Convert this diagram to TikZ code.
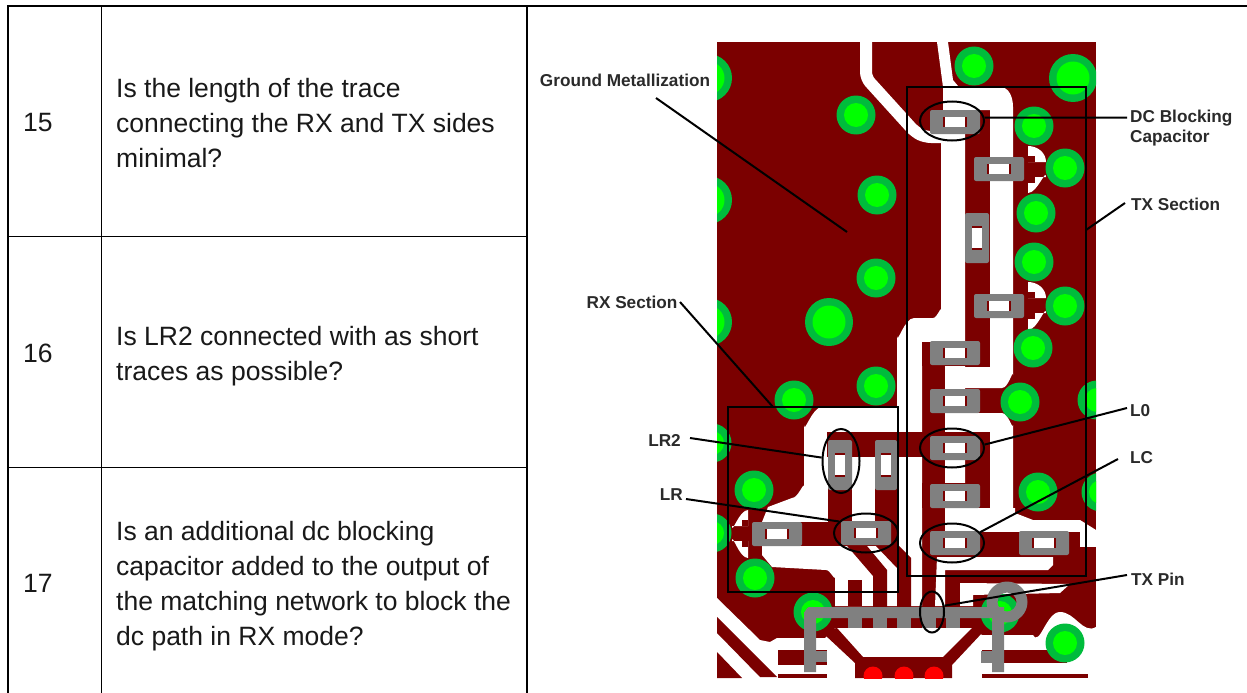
\documentclass[tikz,border=0pt]{standalone}
\usepackage{fontspec}
\setmainfont{Liberation Sans}
\usetikzlibrary{shapes.geometric}
\definecolor{pcb}{HTML}{7B0000}
\definecolor{viaout}{HTML}{00BC3C}
\definecolor{viain}{HTML}{00FF00}
\definecolor{padgray}{HTML}{808080}
\definecolor{lbl}{HTML}{2A2A2A}
\tikzset{
  x=1pt,y=-1pt,
  tabletext/.style={anchor=west,align=left,inner sep=0pt,font=\fontsize{26.5}{35}\selectfont,text=black!90},
  pcblabel/.style={inner sep=2pt,align=left,text=lbl,font=\fontsize{17.2}{20}\bfseries\selectfont},
  ring/.style={draw=black,line width=2pt,ellipse,inner sep=0pt,fill=none},
  leader/.style={draw=black,line width=2pt},
  frame/.style={draw=black,line width=2pt,fill=none,rectangle,inner sep=0pt},
  gr/.style={fill=padgray}
}
\newcommand{\padh}[2]{%
  \fill[gr,rounded corners=2pt] (#1-25,#2-12) rectangle (#1+25,#2+12);
  \fill[pcb] (#1-12,#2-5) rectangle (#1+12,#2+5);
  \fill[white] (#1-10,#2-5) rectangle (#1+10,#2+5);}
\newcommand{\padv}[2]{%
  \fill[gr,rounded corners=2pt] (#1-12,#2-25) rectangle (#1+12,#2+25);
  \fill[pcb] (#1-5,#2-12) rectangle (#1+5,#2+12);
  \fill[white] (#1-5,#2-10) rectangle (#1+5,#2+10);}
\newcommand{\viasm}[2]{\fill[viaout] (#1,#2) circle (19.5);\fill[viain] (#1,#2) circle (12);}
\newcommand{\vialg}[2]{\fill[viaout] (#1,#2) circle (24);\fill[viain] (#1,#2) circle (16.5);}
\begin{document}
\begin{tikzpicture}
\useasboundingbox (0,0) rectangle (1247,693);
\fill[white] (0,0) rectangle (1247,693);
% table
\draw[line width=2.6pt] (8,693) -- (8,6) -- (1247,6);
\draw[line width=1pt] (101,6) -- (101,693);
\draw[line width=1.2pt] (527,6) -- (527,693);
\draw[line width=1pt] (8,236) -- (527,236);
\draw[line width=1pt] (8,467) -- (527,467);
\node[tabletext] (n15) at (23,123) {15};
\node[tabletext] (n16) at (23,353) {16};
\node[tabletext] (n17) at (23,583) {17};
\node[tabletext] (q15) at (116,123) {Is the length of the trace\\connecting the RX and TX sides\\minimal?};
\node[tabletext] (q16) at (116,356) {Is LR2 connected with as short\\traces as possible?};
\node[tabletext] (q17) at (116,586) {Is an additional dc blocking\\capacitor added to the output of\\the matching network to block the\\dc path in RX mode?};
% board
\fill[pcb] (717,42) rectangle (1096,678);
\begin{scope}
\clip (717,42) rectangle (1096,678);
% white copper clearances
\draw[white,line width=12pt,line join=round,rounded corners=6pt] (866,40) -- (866,78) -- (915,132) -- (925,137) -- (950,137);
\fill[white] (937,42) -- (948,42) -- (953,80) -- (958,86) -- (1000,87) to[out=0,in=90] (1013,107) -- (1013,375) to[out=90,in=0] (1002,388) -- (945,388) -- (945,367) -- (990,367) -- (990,110) -- (943,110) -- (943,87) -- cycle;
\fill[white] (941,131) -- (965,131) -- (965,532) -- (945,532) -- (945,342) -- (922,342) -- (922,606) -- (835,606) -- (835,577) to[out=-90,in=0] (826,570) -- (772,567) -- (762,555) -- (762,522) -- (768,507) -- (792,498) to[out=0,in=90] (804,487) -- (804,425) to[out=-90,in=180] (822,407) -- (897,407) -- (897,336) to[out=-90,in=180] (914,318) -- (933,318) to[out=0,in=90] (941,310) -- cycle;
\fill[white] (945,413) -- (1002,413) to[out=0,in=-90] (1013,425) -- (1013,513) -- (990,513) -- (990,437) -- (945,437) -- cycle;
\fill[white] (945,508) -- (1015,508) -- (1015,513) -- (1033,520) -- (1080,520) -- (1096,530) -- (1096,547) -- (1080,547) -- (1080,532) -- (945,532) -- cycle;
\fill[white] (937,557) -- (1053,557) -- (1053,565) -- (1048,570) -- (945,570) -- (945,606) -- (935,606) -- cycle;
\fill[white] (960,583) -- (1070,584) -- (1060,593) -- (973,595) -- (973,606) -- (960,606) -- cycle;
\fill[white] (717,598) -- (760,640) -- (770,642) -- (777,638) -- (825,638) -- (835,628) -- (972,628) -- (982,635) -- (1033,635) to[out=-60,in=180] (1060,612) to[out=0,in=-150] (1096,627) -- (1096,678) -- (717,678) -- cycle;
% dark copper over clearances
\fill[pcb] (922,342) rectangle (990,366);
\fill[pcb] (827,432) rectangle (990,457);
\fill[pcb] (828,432) rectangle (852,546);
\fill[pcb] (875,457) rectangle (898,546);
\fill[pcb] (752,522) rectangle (893,546);
\fill[pcb] (922,483) rectangle (990,508);
\fill[pcb] (965,532) rectangle (1080,557);
\fill[pcb] (848,580) rectangle (862,606);
\fill[pcb] (980,547) rectangle (1096,557);
\fill[pcb] (842,540) -- (862,540) -- (887,570) -- (887,608) -- (873,608) -- (873,576) -- cycle;
\fill[pcb] (880,540) -- (893,540) -- (911,558) -- (911,608) -- (897,608) -- (897,568) -- (876,546) -- cycle;
\fill[pcb] (717,617) -- (777,677) -- (760,677) -- (717,633) -- cycle;
\fill[pcb] (717,652) -- (742,678) -- (717,678) -- cycle;
\fill[pcb] (825,630) -- (837,628) -- (863,657) -- (943,657) -- (973,627) -- (982,633) -- (952,665) -- (952,678) -- (855,678) -- (855,663) -- (825,635) -- cycle;
\fill[pcb] (778,650) rectangle (827,665);
\fill[pcb] (778,674) rectangle (827,678);
\fill[pcb] (982,650) rectangle (1067,663);
\fill[pcb] (982,674) rectangle (1088,678);
% small relief tabs
\fill[white] (1028,146) to[out=0,in=90] (1046,162) -- (1028,162) -- cycle;
\fill[white] (1046,177) to[out=90,in=0] (1028,193) -- (1028,177) -- cycle;
\fill[pcb] (1028,156) rectangle (1035,162);
\fill[pcb] (1028,177) rectangle (1035,183);
\fill[white] (1028,282) to[out=0,in=90] (1046,298) -- (1028,298) -- cycle;
\fill[white] (1046,313) to[out=90,in=0] (1028,330) -- (1028,313) -- cycle;
\fill[pcb] (1028,292) rectangle (1035,298);
\fill[pcb] (1028,313) rectangle (1035,319);
\fill[white] (748,510) to[out=180,in=-90] (732,526) -- (748,526) -- cycle;
\fill[white] (732,541) to[out=90,in=180] (748,558) -- (748,541) -- cycle;
\fill[pcb] (742,520) rectangle (748,526);
\fill[pcb] (742,541) rectangle (748,547);
% vias
\viasm{974}{66}\vialg{1073}{78}\viasm{856}{115}\viasm{1034}{126}\viasm{1065}{168}
\viasm{1036}{213}\viasm{877}{195}\viasm{1034}{262}\viasm{876}{278}\viasm{1065}{306}
\vialg{829}{322}\viasm{1033}{348}\vialg{708}{78}\vialg{708}{200}\vialg{708}{322}
\viasm{794}{400}\viasm{876}{386}\viasm{1020}{402}\viasm{1097}{400}\viasm{1038}{492}
\viasm{1101}{492}\viasm{754}{490}\viasm{755}{578}\viasm{712}{443}\viasm{712}{533}
\viasm{813}{612}\viasm{1000}{613}\viasm{1065}{643}
\fill[red] (873,676) circle (9.5);\fill[red] (904,676) circle (9.5);\fill[red] (934,676) circle (9.5);
\end{scope}
% gray metal
\padh{955}{122}\padh{999}{169}\padh{999}{306}\padh{955}{353}\padh{955}{401}\padh{955}{448}
\padh{955}{496}\padh{955}{543}\padh{1044}{543}\padh{866}{533}\padh{777}{534}
\padv{977}{238}\padv{840}{465}
\fill[gr,rounded corners=2pt] (875,440) rectangle (897,490);
\fill[pcb] (881,453) rectangle (891,477);
\fill[white] (881,455) rectangle (891,475);
\fill[gr,even odd rule] (1007,602) circle (20.5) (1007,602) circle (9.5);
\fill[gr] (804,672) -- (804,612) to[out=-90,in=180] (809,607) -- (1004,607) -- (1004,672) -- (992,672) -- (992,618) -- (816,618) -- (816,672) -- cycle;
\fill[gr] (816,651) rectangle (827,662);
\fill[gr] (981,651) rectangle (992,663);
\foreach \tx in {848,873,897,922,946}{\fill[gr] (\tx,617) rectangle (\tx+14,628);}
% annotation frames and rings
\node[frame,minimum width=179pt,minimum height=489pt] (rTX) at (996.5,331.5) {};
\node[frame,minimum width=170pt,minimum height=185pt] (rRX) at (813,499.5) {};
\node[ring,minimum width=64pt,minimum height=39pt] (eDC) at (952,121) {};
\node[ring,minimum width=64pt,minimum height=39pt] (eL0) at (952,448) {};
\node[ring,minimum width=64pt,minimum height=39pt] (eLC) at (952,543) {};
\node[ring,minimum width=64pt,minimum height=39pt] (eLR) at (866,533) {};
\node[ring,minimum width=37pt,minimum height=64pt] (eLR2) at (841,461) {};
\node[ring,minimum width=24pt,minimum height=41pt] (eTX) at (932,612) {};
% labels
\node[pcblabel,anchor=center] (lGM) at (625,80) {Ground Metallization};
\node[pcblabel,anchor=west] (lDC) at (1128,128) {DC Blocking\\Capacitor};
\node[pcblabel,anchor=west] (lTX) at (1129,204) {TX Section};
\node[pcblabel,anchor=center] (lRX) at (632,302) {RX Section};
\node[pcblabel,anchor=east] (lLR2) at (683,440) {LR2};
\node[pcblabel,anchor=east] (lLR) at (685,495) {LR};
\node[pcblabel,anchor=west] (lL0) at (1128,411) {L0};
\node[pcblabel,anchor=west] (lLC) at (1128,458) {LC};
\node[pcblabel,anchor=west] (lTP) at (1129,579) {TX Pin};
% leaders
\coordinate (gEnd) at (847,232);
\coordinate (gStart) at (656,98);
\coordinate (dcStart) at (1127,117.5);
\coordinate (txA) at (1125,203);
\coordinate (txB) at (1086,230);
\coordinate (rxA) at (680,302);
\coordinate (rxB) at (773,407);
\coordinate (lr2A) at (690,438);
\coordinate (lrA) at (686,499);
\coordinate (l0A) at (1127,408);
\coordinate (lcA) at (1118,459);
\coordinate (tpA) at (1127,575);
\draw[leader] (gStart) -- (gEnd);
\draw[leader] (dcStart) -- (eDC.6);
\draw[leader] (txA) -- (txB);
\draw[leader] (rxA) -- (rxB);
\draw[leader] (lr2A) -- (eLR2.170);
\draw[leader] (lrA) -- (eLR.157);
\draw[leader] (l0A) -- (eL0.6);
\draw[leader] (lcA) -- (eLC.21);
\draw[leader] (tpA) -- (eTX.27);
\end{tikzpicture}
\end{document}
